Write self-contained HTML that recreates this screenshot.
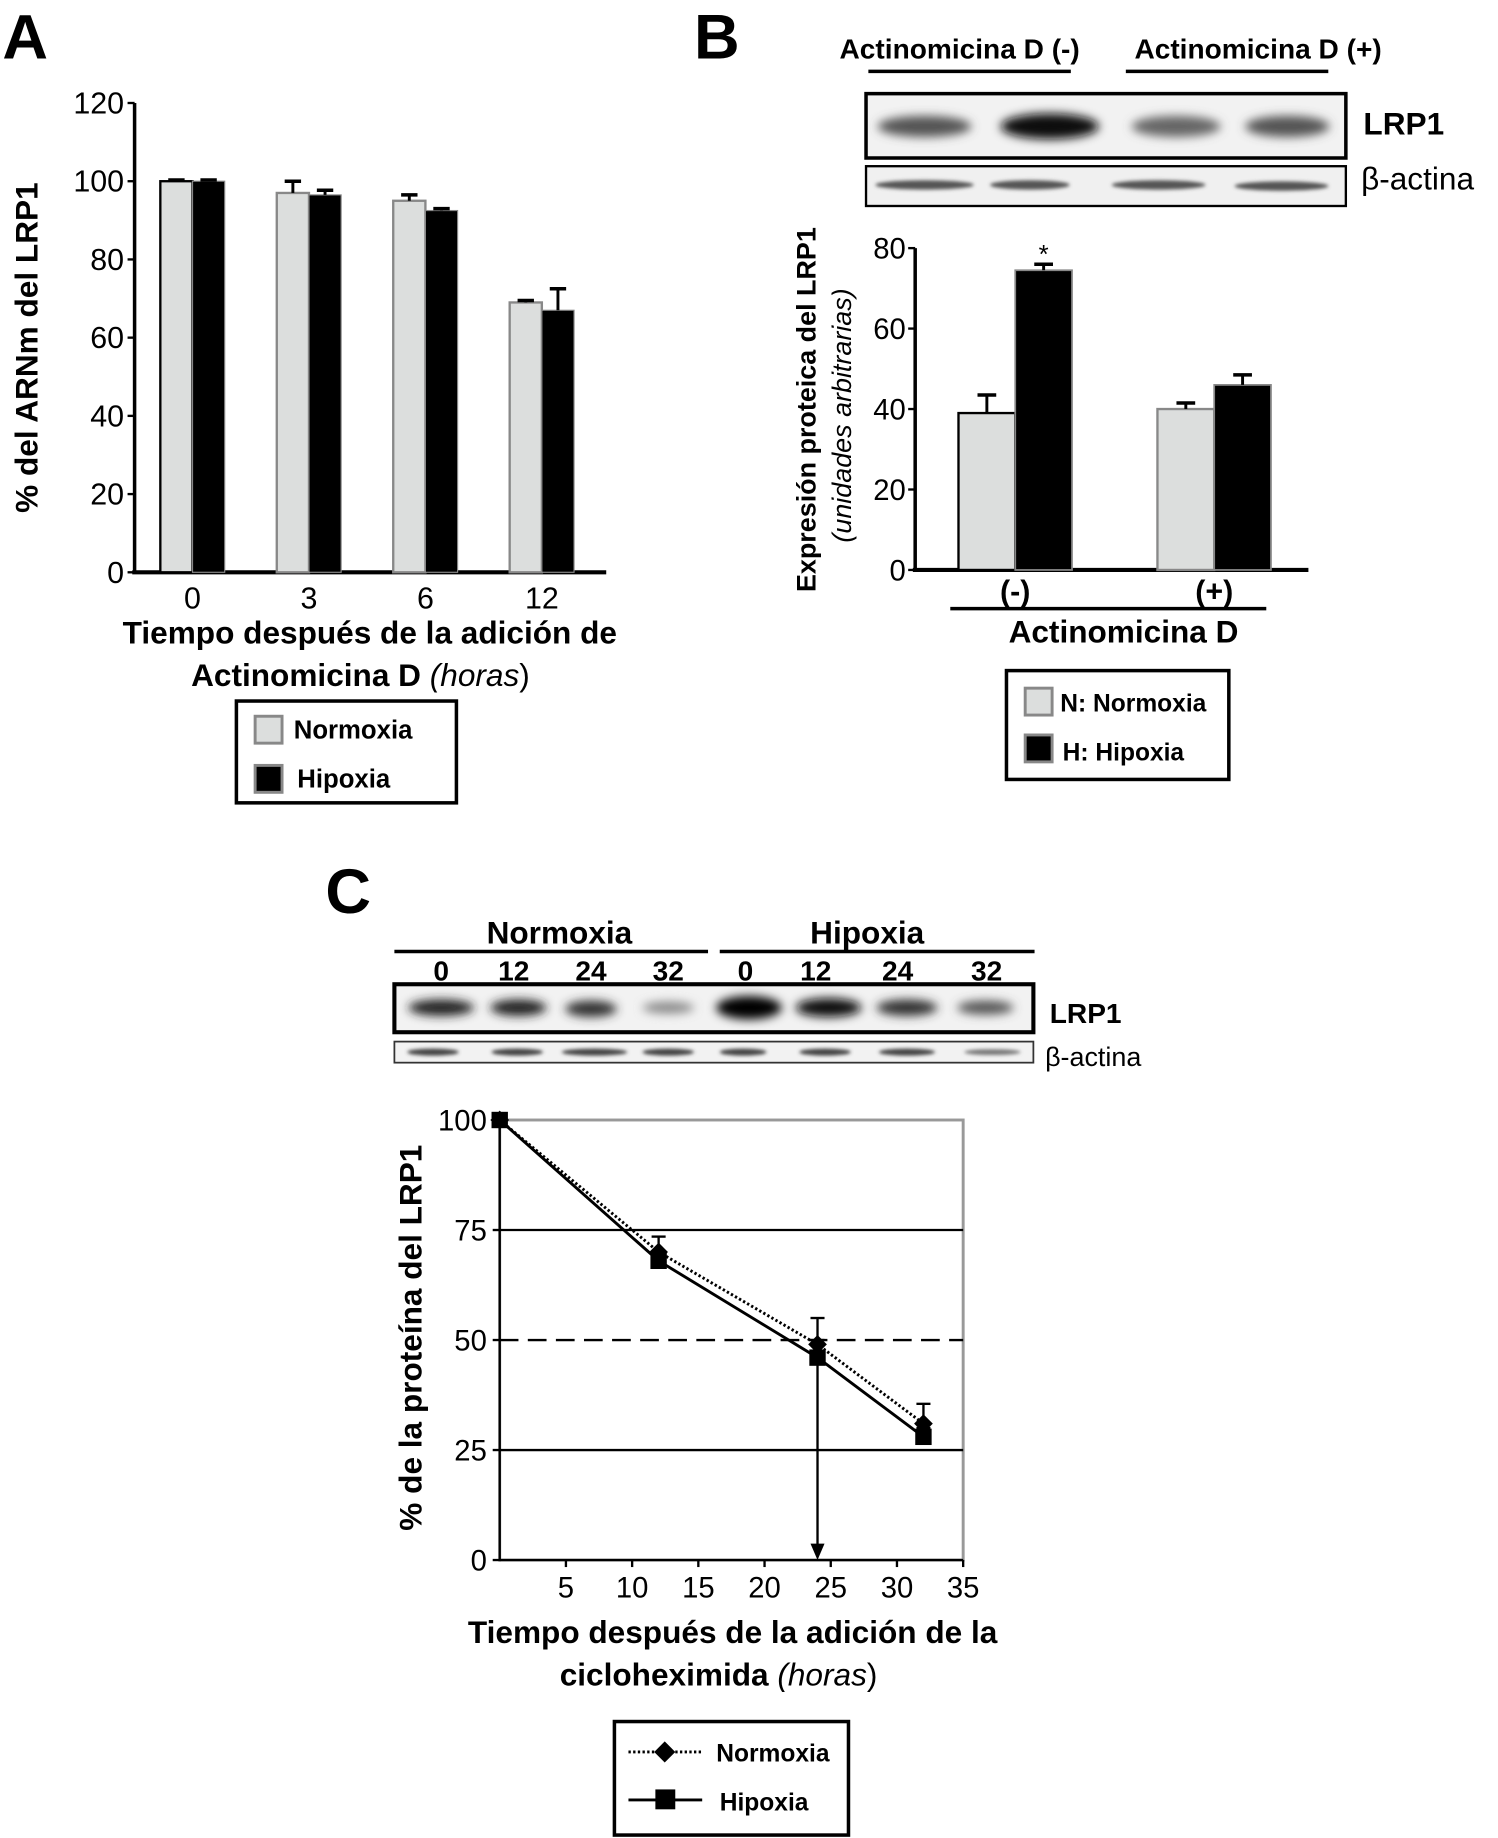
<!DOCTYPE html>
<html><head><meta charset="utf-8"><style>
html,body{margin:0;padding:0;background:#fff;}
svg{display:block;font-family:"Liberation Sans",Arial,sans-serif;}
.b{font-weight:bold;}
</style></head><body>
<svg id="fig" width="1498" height="1838" viewBox="0 0 1280 1570.5" xmlns="http://www.w3.org/2000/svg">
<defs>
<filter id="blur" x="-20%" y="-100%" width="140%" height="300%"><feGaussianBlur stdDeviation="4"/></filter>
<filter id="blur2" x="-20%" y="-100%" width="140%" height="300%"><feGaussianBlur stdDeviation="1.5"/></filter>
</defs>
<!-- Panel A -->
<text x="2" y="50" class="b" font-size="54">A</text>
<g id="chartA"></g>
<text class="b" font-size="27" text-anchor="middle" transform="translate(32,297) rotate(-90)">% del ARNm del LRP1</text>
<text class="b" font-size="27" x="316" y="550" text-anchor="middle">Tiempo después de la adición de</text>
<text font-size="27" x="308" y="586" text-anchor="middle"><tspan class="b">Actinomicina D</tspan> <tspan font-style="italic">(horas</tspan>)</text>
<g>
<rect x="202" y="599" width="188" height="87" fill="#fff" stroke="#000" stroke-width="3"/>
<rect x="218" y="612" width="23" height="23" fill="#dcdedd" stroke="#888" stroke-width="2.5"/>
<text x="251" y="631" class="b" font-size="22">Normoxia</text>
<rect x="218" y="654" width="23" height="23" fill="#000" stroke="#888" stroke-width="2.5"/>
<text x="254" y="673" class="b" font-size="22">Hipoxia</text>
</g>
<!-- Panel B -->
<text x="593" y="50" class="b" font-size="54">B</text>
<text x="820" y="50" class="b" font-size="24" text-anchor="middle">Actinomicina D (-)</text>
<text x="1075" y="50" class="b" font-size="24" text-anchor="middle">Actinomicina D (+)</text>
<line x1="742" y1="61" x2="915" y2="61" stroke="#000" stroke-width="3"/>
<line x1="962" y1="61" x2="1135" y2="61" stroke="#000" stroke-width="3"/>
<g>
<rect x="740" y="80" width="410" height="55" fill="#f2f2f2"/>
<ellipse cx="790" cy="108" rx="40" ry="9" fill="#555" filter="url(#blur)"/>
<ellipse cx="897" cy="108" rx="42" ry="11" fill="#111" filter="url(#blur)"/>
<ellipse cx="1005" cy="108" rx="38" ry="9" fill="#666" filter="url(#blur)"/>
<ellipse cx="1100" cy="108" rx="36" ry="9" fill="#555" filter="url(#blur)"/>
<rect x="740" y="80" width="410" height="55" fill="none" stroke="#000" stroke-width="3"/>
</g>
<g>
<rect x="740" y="142" width="410" height="34" fill="#f0f0f0"/>
<ellipse cx="790" cy="158" rx="42" ry="4" fill="#555" filter="url(#blur2)"/>
<ellipse cx="880" cy="158" rx="34" ry="4" fill="#555" filter="url(#blur2)"/>
<ellipse cx="990" cy="158" rx="40" ry="4" fill="#555" filter="url(#blur2)"/>
<ellipse cx="1095" cy="159" rx="40" ry="4" fill="#555" filter="url(#blur2)"/>
<rect x="740" y="142" width="410" height="34" fill="none" stroke="#000" stroke-width="2"/>
</g>
<text x="1165" y="115" class="b" font-size="27">LRP1</text>
<text x="1163" y="162" font-size="27">β-actina</text>
<g id="chartB"></g>
<text class="b" font-size="23" text-anchor="middle" transform="translate(697,350) rotate(-90)">Expresión proteica del LRP1</text>
<text font-style="italic" font-size="23" text-anchor="middle" transform="translate(727,355) rotate(-90)">(unidades arbitrarias)</text>
<line x1="812" y1="520" x2="1082" y2="520" stroke="#000" stroke-width="3"/>
<text x="960" y="549" class="b" font-size="27" text-anchor="middle">Actinomicina D</text>
<g>
<rect x="860" y="573" width="190" height="93" fill="#fff" stroke="#000" stroke-width="3"/>
<rect x="876" y="588" width="23" height="23" fill="#dcdedd" stroke="#888" stroke-width="2.5"/>
<text x="906" y="608" class="b" font-size="21">N: Normoxia</text>
<rect x="876" y="628" width="23" height="23" fill="#000" stroke="#888" stroke-width="2.5"/>
<text x="908" y="650" class="b" font-size="21">H: Hipoxia</text>
</g>
<!-- Panel C -->
<text x="278" y="780" class="b" font-size="54">C</text>
<text x="478" y="806" class="b" font-size="27" text-anchor="middle">Normoxia</text>
<text x="741" y="806" class="b" font-size="27" text-anchor="middle">Hipoxia</text>
<line x1="337" y1="813" x2="605" y2="813" stroke="#000" stroke-width="3"/>
<line x1="615" y1="813" x2="884" y2="813" stroke="#000" stroke-width="3"/>
<g class="b" font-size="24" text-anchor="middle">
<text x="377" y="838">0</text><text x="439" y="838">12</text><text x="505" y="838">24</text><text x="571" y="838">32</text>
<text x="637" y="838">0</text><text x="697" y="838">12</text><text x="767" y="838">24</text><text x="843" y="838">32</text>
</g>
<g>
<rect x="337" y="841" width="546" height="41" fill="#f2f2f2"/>
<ellipse cx="377" cy="861" rx="28" ry="7" fill="#222" filter="url(#blur)"/>
<ellipse cx="443" cy="861" rx="24" ry="7" fill="#222" filter="url(#blur)"/>
<ellipse cx="505" cy="862" rx="22" ry="7" fill="#333" filter="url(#blur)"/>
<ellipse cx="571" cy="861" rx="22" ry="5" fill="#888" filter="url(#blur)"/>
<ellipse cx="640" cy="861" rx="28" ry="10" fill="#000" filter="url(#blur)"/>
<ellipse cx="708" cy="861" rx="28" ry="8" fill="#111" filter="url(#blur)"/>
<ellipse cx="775" cy="861" rx="26" ry="7" fill="#333" filter="url(#blur)"/>
<ellipse cx="842" cy="861" rx="24" ry="6" fill="#555" filter="url(#blur)"/>
<rect x="337" y="841" width="546" height="41" fill="none" stroke="#000" stroke-width="3.5"/>
</g>
<g>
<rect x="337" y="890" width="546" height="18" fill="#f2f2f2" stroke="#333" stroke-width="1.5"/>
<g fill="#444" filter="url(#blur2)">
<ellipse cx="370" cy="899" rx="22" ry="3"/><ellipse cx="442" cy="899" rx="22" ry="3"/><ellipse cx="508" cy="899" rx="28" ry="3"/><ellipse cx="571" cy="899" rx="22" ry="3"/>
<ellipse cx="635" cy="899" rx="20" ry="3"/><ellipse cx="705" cy="899" rx="22" ry="3"/><ellipse cx="775" cy="899" rx="24" ry="3"/><ellipse cx="848" cy="899" rx="24" ry="2.5" fill="#777"/>
</g>
</g>
<text x="897" y="874" class="b" font-size="24">LRP1</text>
<text x="893" y="911" font-size="23">β-actina</text>
<g id="chartC"></g>
<text class="b" font-size="27" text-anchor="middle" transform="translate(360,1143) rotate(-90)">% de la proteína del LRP1</text>
<text x="626" y="1404" class="b" font-size="27" text-anchor="middle">Tiempo después de la adición de la</text>
<text x="614" y="1440" font-size="27" text-anchor="middle"><tspan class="b">cicloheximida</tspan> <tspan font-style="italic">(horas</tspan>)</text>
<g>
<rect x="525" y="1471" width="200" height="97" fill="#fff" stroke="#000" stroke-width="3"/>
<line x1="537" y1="1497" x2="600" y2="1497" stroke="#000" stroke-width="2.5" stroke-dasharray="2,2"/>
<path d="M568 1488 L577 1497 L568 1506 L559 1497Z" fill="#000"/>
<text x="612" y="1505" class="b" font-size="21">Normoxia</text>
<line x1="537" y1="1538" x2="600" y2="1538" stroke="#000" stroke-width="2.5"/>
<rect x="560" y="1529" width="17" height="17" fill="#000"/>
<text x="615" y="1547" class="b" font-size="21">Hipoxia</text>
</g>
</svg>
<script>
const NS='http://www.w3.org/2000/svg';
// Chart A data
const aCategories=['0','3','6','12'];
const aNormoxia=[100,97,95,69];
const aNormoxiaErr=[0.3,3,1.5,0.5];
const aHipoxia=[100,96.5,92.5,67];
const aHipoxiaErr=[0.3,1.2,0.5,5.5];
const aTicks=[0,20,40,60,80,100,120];
// Chart B data
const bCategories=['(-)','(+)'];
const bNormoxia=[39,40];
const bNormoxiaErr=[4.5,1.5];
const bHipoxia=[74.5,46];
const bHipoxiaErr=[1.5,2.5];
const bTicks=[0,20,40,60,80];
// Chart C data
const cTimes=[0,12,24,32];
const cNormoxia=[100,70,49,31];
const cNormoxiaErr=[0,3.5,6,4.5];
const cHipoxia=[100,68,46,28];
const cHipoxiaErr=[0,2,4,2];
const cXTicks=[5,10,15,20,25,30,35];
const cYTicks=[0,25,50,75,100];
const cGridSolid=[75,25];
const cGridDashed=[50];
const cHalfLife=24;

function mk(parent,tag,attrs,text){const e=document.createElementNS(NS,tag);for(const k in attrs)e.setAttribute(k,attrs[k]);if(text!==undefined)e.textContent=text;parent.appendChild(e);return e;}

// ---- Chart A ----
(function(){
const g=document.getElementById('chartA');
const y=v=>489-(v/120)*401;
const groupX=i=>137+i*99.5;
const bw=27.5;
mk(g,'line',{x1:115,y1:88,x2:115,y2:490,stroke:'#000','stroke-width':3});
mk(g,'line',{x1:113,y1:489,x2:518,y2:489,stroke:'#000','stroke-width':3.5});
aTicks.forEach(t=>{
 mk(g,'line',{x1:109,y1:y(t),x2:115,y2:y(t),stroke:'#000','stroke-width':2});
 const tx=mk(g,'text',{x:106,y:y(t)+9,'text-anchor':'end','font-size':26},String(t));
 
 
});
aCategories.forEach((c,i)=>{
 const x0=groupX(i);
 const r1=mk(g,'rect',{x:x0,y:y(aNormoxia[i]),width:bw,height:489-y(aNormoxia[i]),fill:'#dcdedd',stroke:i==0?'#000':'#888','stroke-width':2});
 
 
 const ex=x0+bw/2,et=y(aNormoxia[i]+aNormoxiaErr[i]);
 mk(g,'line',{x1:ex,y1:y(aNormoxia[i]),x2:ex,y2:et,stroke:'#000','stroke-width':2.5});
 mk(g,'line',{x1:ex-7,y1:et,x2:ex+7,y2:et,stroke:'#000','stroke-width':3});
 const x1=x0+bw;
 const r2=mk(g,'rect',{x:x1,y:y(aHipoxia[i]),width:bw,height:489-y(aHipoxia[i]),fill:'#000',stroke:'#888','stroke-width':1});
 
 
 const hx=x1+bw/2,ht=y(aHipoxia[i]+aHipoxiaErr[i]);
 mk(g,'line',{x1:hx,y1:y(aHipoxia[i]),x2:hx,y2:ht,stroke:'#000','stroke-width':2.5});
 mk(g,'line',{x1:hx-7,y1:ht,x2:hx+7,y2:ht,stroke:'#000','stroke-width':3});
 const lb=mk(g,'text',{x:x0+bw,y:520,'text-anchor':'middle','font-size':26},c);
 
 
});
})();

// ---- Chart B ----
(function(){
const g=document.getElementById('chartB');
const y=v=>487-(v/80)*275;
const groupX=i=>819+i*170;
const bw=48.5;
mk(g,'line',{x1:782,y1:212,x2:782,y2:488,stroke:'#000','stroke-width':3});
mk(g,'line',{x1:780,y1:487,x2:1118,y2:487,stroke:'#000','stroke-width':3.5});
bTicks.forEach(t=>{
 mk(g,'line',{x1:776,y1:y(t),x2:782,y2:y(t),stroke:'#000','stroke-width':2});
 const tx=mk(g,'text',{x:774,y:y(t)+9,'text-anchor':'end','font-size':25},String(t));
 
 
});
bCategories.forEach((c,i)=>{
 const x0=groupX(i);
 const r1=mk(g,'rect',{x:x0,y:y(bNormoxia[i]),width:bw,height:487-y(bNormoxia[i]),fill:'#dcdedd',stroke:i==0?'#000':'#888','stroke-width':2});
 
 
 const ex=x0+bw/2,et=y(bNormoxia[i]+bNormoxiaErr[i]);
 mk(g,'line',{x1:ex,y1:y(bNormoxia[i]),x2:ex,y2:et,stroke:'#000','stroke-width':2.5});
 mk(g,'line',{x1:ex-8,y1:et,x2:ex+8,y2:et,stroke:'#000','stroke-width':3});
 const x1=x0+bw;
 const r2=mk(g,'rect',{x:x1,y:y(bHipoxia[i]),width:bw,height:487-y(bHipoxia[i]),fill:'#000',stroke:'#888','stroke-width':1.5});
 
 
 const hx=x1+bw/2,ht=y(bHipoxia[i]+bHipoxiaErr[i]);
 mk(g,'line',{x1:hx,y1:y(bHipoxia[i]),x2:hx,y2:ht,stroke:'#000','stroke-width':2.5});
 mk(g,'line',{x1:hx-8,y1:ht,x2:hx+8,y2:ht,stroke:'#000','stroke-width':3});
 const lb=mk(g,'text',{x:x0+bw,y:514,'text-anchor':'middle','font-size':26,'font-weight':'bold'},c);
 
 
 if(i==0){
  const st=mk(g,'text',{x:hx,y:ht-1,'text-anchor':'middle','font-size':22},'*');
  
  
 }
});
})();

// ---- Chart C ----
(function(){
const g=document.getElementById('chartC');
const x=v=>427+(v/35)*396;
const y=v=>1333-(v/100)*376;
mk(g,'rect',{x:427,y:957,width:396,height:376,fill:'none',stroke:'#999','stroke-width':2.5});
mk(g,'line',{x1:427,y1:957,x2:427,y2:1334,stroke:'#000','stroke-width':2});
mk(g,'line',{x1:427,y1:1333,x2:823,y2:1333,stroke:'#000','stroke-width':2});
cGridSolid.forEach(v=>{const l=mk(g,'line',{x1:427,y1:y(v),x2:823,y2:y(v),stroke:'#000','stroke-width':2});
 
 });
cGridDashed.forEach(v=>{const l=mk(g,'line',{x1:427,y1:y(v),x2:823,y2:y(v),stroke:'#000','stroke-width':2,'stroke-dasharray':'16,8'});
 
 });
cYTicks.forEach(t=>{
 mk(g,'line',{x1:421,y1:y(t),x2:427,y2:y(t),stroke:'#000','stroke-width':2});
 const tx=mk(g,'text',{x:416,y:y(t)+9,'text-anchor':'end','font-size':25},String(t));
 
 
});
cXTicks.forEach(t=>{
 mk(g,'line',{x1:x(t),y1:1333,x2:x(t),y2:1339,stroke:'#000','stroke-width':2});
 const tx=mk(g,'text',{x:x(t),y:1365,'text-anchor':'middle','font-size':25},String(t));
 
 
});
// arrow
const ax=x(cHalfLife);
const ar=mk(g,'line',{x1:ax,y1:y(50),x2:ax,y2:y(0)-12,stroke:'#000','stroke-width':2});


mk(g,'path',{d:`M${ax-6} ${y(0)-14} L${ax+6} ${y(0)-14} L${ax} ${y(0)} Z`,fill:'#000'});
// error bars
function err(vals,errs,dx){vals.forEach((v,i)=>{if(!errs[i])return;const px=x(cTimes[i])+dx,t=y(v+errs[i]);
 mk(g,'line',{x1:px,y1:y(v),x2:px,y2:t,stroke:'#000','stroke-width':2});
 mk(g,'line',{x1:px-6,y1:t,x2:px+6,y2:t,stroke:'#000','stroke-width':2});});}
err(cNormoxia,cNormoxiaErr,0);
err(cHipoxia,cHipoxiaErr,0);
const pn=mk(g,'polyline',{points:cTimes.map((t,i)=>x(t)+','+y(cNormoxia[i])).join(' '),fill:'none',stroke:'#000','stroke-width':2.5,'stroke-dasharray':'2,2'});


const ph=mk(g,'polyline',{points:cTimes.map((t,i)=>x(t)+','+y(cHipoxia[i])).join(' '),fill:'none',stroke:'#000','stroke-width':2.5});


cTimes.forEach((t,i)=>{
 const px=x(t),py=y(cHipoxia[i]);
 const s=mk(g,'rect',{x:px-7,y:py-7,width:14,height:14,fill:'#000'});
 
 
 const qx=x(t),qy=y(cNormoxia[i]);
 const d=mk(g,'path',{d:`M${qx} ${qy-8} L${qx+8} ${qy} L${qx} ${qy+8} L${qx-8} ${qy} Z`,fill:'#000'});
 
 
});
})();
</script>
</body></html>
